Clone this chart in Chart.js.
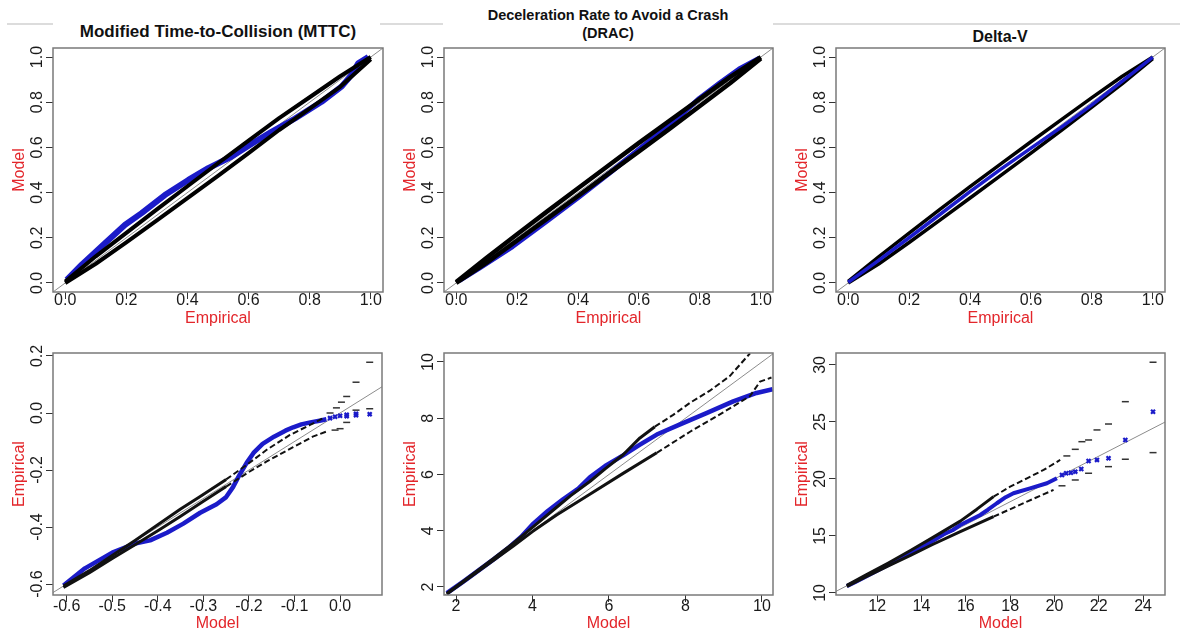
<!DOCTYPE html>
<html>
<head>
<meta charset="utf-8">
<script src="https://cdn.jsdelivr.net/npm/chart.js@4.4.1/dist/chart.umd.min.js"></script>
<style>
  body { margin: 0; background: #fff; }
  #page { position: relative; width: 1182px; height: 634px; overflow: hidden; font-family: "Liberation Sans", Arial, sans-serif; }
  .sep { position: absolute; top: 23px; height: 2px; background: #dcdcdc; }
  .ttl { position: absolute; font-weight: bold; color: #111; text-align: center; white-space: nowrap; transform: translateX(-50%); }
  canvas { position: absolute; }
</style>
</head>
<body>
<div id="page">
  <div class="sep" style="left:7px;width:46px"></div>
  <div class="sep" style="left:380px;width:63px"></div>
  <div class="sep" style="left:773px;width:407px"></div>
  <div class="ttl" style="left:218px;top:21px;font-size:17px;line-height:22px">Modified Time-to-Collision (MTTC)</div>
  <div class="ttl" style="left:608px;top:6px;font-size:14.5px;line-height:18px">Deceleration Rate to Avoid a Crash<br>(DRAC)</div>
  <div class="ttl" style="left:1000px;top:27px;font-size:16px;line-height:20px">Delta-V</div>
  <canvas id="c1"></canvas>
  <canvas id="c2"></canvas>
  <canvas id="c3"></canvas>
  <canvas id="c4"></canvas>
  <canvas id="c5"></canvas>
  <canvas id="c6"></canvas>
</div>
<script>
// ---- P-P plots (top row) ----
const ppGrid = [0, 0.1, 0.2, 0.3, 0.4, 0.5, 0.6, 0.7, 0.8, 0.9, 1.0];
const ppTickLabels = ['0.0', '0.2', '0.4', '0.6', '0.8', '1.0'];
const ppRef = [-0.1, 1.1];

const mttcPPObsX = [0.005, 0.054, 0.130, 0.196, 0.250, 0.326, 0.403, 0.468, 0.545, 0.621, 0.675, 0.752, 0.839, 0.905, 0.937, 0.959, 0.992];
const mttcPPObsY = [0.014, 0.081, 0.176, 0.258, 0.309, 0.389, 0.456, 0.508, 0.560, 0.625, 0.669, 0.728, 0.802, 0.870, 0.921, 0.972, 1.000];
const mttcPPUpper = [0.006, 0.118, 0.222, 0.326, 0.428, 0.530, 0.630, 0.730, 0.822, 0.915, 1.000];
const mttcPPLower = [0.000, 0.085, 0.180, 0.277, 0.375, 0.474, 0.575, 0.677, 0.772, 0.868, 0.990];

const dracPPObsX = [0.010, 0.076, 0.185, 0.295, 0.404, 0.514, 0.623, 0.733, 0.798, 0.864, 0.929, 0.995];
const dracPPObsY = [0.010, 0.066, 0.161, 0.271, 0.382, 0.498, 0.616, 0.737, 0.817, 0.884, 0.947, 0.995];
const dracPPUpper = [0.004, 0.112, 0.216, 0.318, 0.419, 0.520, 0.620, 0.718, 0.815, 0.912, 1.000];
const dracPPLower = [0.000, 0.090, 0.188, 0.286, 0.385, 0.484, 0.582, 0.682, 0.783, 0.885, 0.994];

const dvPPObsY = [0.003, 0.100, 0.200, 0.302, 0.404, 0.503, 0.597, 0.690, 0.788, 0.893, 1.000];
const dvPPUpper = [0.007, 0.116, 0.221, 0.325, 0.426, 0.526, 0.625, 0.723, 0.820, 0.915, 1.000];
const dvPPLower = [0.000, 0.084, 0.179, 0.277, 0.376, 0.475, 0.575, 0.676, 0.778, 0.882, 0.993];

// ---- Q-Q plots (bottom row) ----
const mttcQQTickLabelsX = ['-0.6', '-0.5', '-0.4', '-0.3', '-0.2', '-0.1', '0.0'];
const mttcQQTickLabelsY = ['-0.6', '-0.4', '-0.2', '0.0', '0.2'];
const mttcQQRef = [-0.7, 0.2];
const mttcQQObsX = [-0.607, -0.56, -0.50, -0.45, -0.417, -0.38, -0.344, -0.307, -0.271, -0.250, -0.235, -0.220, -0.205, -0.190, -0.170, -0.145, -0.120, -0.103, -0.085, -0.065, -0.045, -0.030];
const mttcQQObsY = [-0.605, -0.545, -0.490, -0.458, -0.447, -0.420, -0.388, -0.350, -0.320, -0.295, -0.260, -0.215, -0.175, -0.140, -0.108, -0.083, -0.062, -0.050, -0.040, -0.033, -0.027, -0.022];
const mttcQQTailX = [-0.022, -0.011, 0.000, 0.0145, 0.0145, 0.035, 0.035, 0.065];
const mttcQQTailY = [-0.018, -0.013, -0.010, -0.006, -0.011, -0.003, -0.008, -0.004];
const mttcQQUpperX = [-0.607, -0.55, -0.50, -0.45, -0.40, -0.35, -0.307, -0.25, -0.205, -0.161, -0.110, -0.066, -0.037];
const mttcQQUpperY = [-0.607, -0.553, -0.500, -0.447, -0.392, -0.337, -0.293, -0.233, -0.182, -0.129, -0.077, -0.042, -0.018];
const mttcQQUpperTailX = [-0.022, -0.008, 0.003, 0.0145, 0.035, 0.065];
const mttcQQUpperTailY = [0.000, 0.018, 0.038, 0.058, 0.108, 0.178];
const mttcQQLowerX = [-0.607, -0.55, -0.50, -0.45, -0.40, -0.35, -0.30, -0.25, -0.20, -0.161, -0.103, -0.060, -0.030];
const mttcQQLowerY = [-0.612, -0.560, -0.510, -0.462, -0.413, -0.362, -0.310, -0.258, -0.207, -0.170, -0.120, -0.083, -0.065];
const mttcQQLowerTailX = [-0.011, 0.000, 0.0145, 0.035, 0.065];
const mttcQQLowerTailY = [-0.060, -0.055, -0.033, 0.010, 0.015];

const dracQQTickLabels = ['2', '4', '6', '8', '10'];
const dracQQRef = [1, 11];
const dracQQObsX = [1.76, 2.2, 2.6, 3.0, 3.4, 3.7, 4.0, 4.4, 4.8, 5.2, 5.5, 5.9, 6.37, 6.8, 7.25, 7.86, 8.55, 9.25, 9.86, 10.28];
const dracQQObsY = [1.78, 2.20, 2.60, 3.00, 3.42, 3.78, 4.22, 4.70, 5.12, 5.50, 5.90, 6.30, 6.68, 7.05, 7.42, 7.78, 8.18, 8.60, 8.90, 9.03];
const dracQQUpperX = [1.76, 2.5, 3.0, 3.5, 4.0, 4.6, 5.0, 5.5, 5.9, 6.37, 6.81, 7.2, 7.68, 8.12, 8.64, 9.16, 9.69];
const dracQQUpperY = [1.77, 2.52, 3.03, 3.56, 4.12, 4.80, 5.25, 5.75, 6.20, 6.70, 7.30, 7.70, 8.12, 8.55, 8.98, 9.50, 10.31];
const dracQQLowerX = [1.76, 2.5, 3.0, 3.5, 4.0, 4.63, 5.5, 6.37, 7.25, 8.12, 8.99, 9.69, 9.95, 10.25];
const dracQQLowerY = [1.75, 2.48, 2.97, 3.46, 3.97, 4.56, 5.30, 6.04, 6.77, 7.52, 8.21, 8.79, 9.30, 9.45];

const dvQQTickLabelsX = ['12', '14', '16', '18', '20', '22', '24'];
const dvQQTickLabelsY = ['10', '15', '20', '25', '30'];
const dvQQRef = [9, 26];
const dvQQObsX = [10.63, 11.0, 11.5, 12.0, 12.5, 13.0, 13.5, 14.0, 14.5, 15.0, 15.4, 15.75, 16.2, 16.65, 17.0, 17.40, 17.8, 18.15, 18.9, 19.66, 20.11];
const dvQQObsY = [10.60, 10.95, 11.45, 11.95, 12.45, 12.95, 13.45, 13.98, 14.55, 15.15, 15.50, 15.96, 16.40, 16.84, 17.30, 17.87, 18.40, 18.75, 19.18, 19.62, 20.06];
const dvQQTailX = [20.34, 20.53, 20.74, 20.94, 21.21, 21.54, 21.92, 22.44, 23.20, 24.45];
const dvQQTailY = [20.35, 20.50, 20.55, 20.64, 20.88, 21.58, 21.67, 21.81, 23.42, 25.90];
const dvQQUpperX = [10.63, 11.5, 12.5, 13.5, 14.5, 15.75, 16.5, 17.25, 18.0, 18.76, 19.51, 20.26];
const dvQQUpperY = [10.66, 11.58, 12.63, 13.72, 14.85, 16.30, 17.35, 18.45, 19.32, 20.06, 20.79, 21.67];
const dvQQUpperTailX = [20.56, 20.94, 21.24, 21.54, 21.92, 22.44, 23.20, 24.45];
const dvQQUpperTailY = [22.02, 22.60, 23.27, 23.42, 24.30, 24.82, 26.78, 30.24];
const dvQQLowerX = [10.63, 11.5, 12.5, 13.5, 14.5, 15.75, 17.25, 18.76, 19.96];
const dvQQLowerY = [10.58, 11.42, 12.38, 13.30, 14.25, 15.38, 16.69, 18.01, 19.04];
const dvQQLowerTailX = [20.34, 20.94, 21.54, 22.44, 23.20, 24.45];
const dvQQLowerTailY = [19.40, 19.91, 20.50, 21.08, 21.73, 22.31];

// ---- styling ----
const red = '#e3262b';
const blue = '#1b1bc9';
const tickColor = '#1a1a1a';
const fontFamily = '"Liberation Sans", Arial, sans-serif';
const tickFont = { family: fontFamily, size: 16 };
const labelFont = { family: fontFamily, size: 16 };

const pts = (xs, ys) => xs.map((x, i) => ({ x: x, y: ys[i] }));
const nums = labels => labels.map(Number);

// solid band; past `dashFrom` (x value) the envelope is drawn broken like the dash markers
const band = (xs, ys, color, width, dashFrom) => ({
  data: pts(xs, ys), showLine: true, borderColor: color, borderWidth: width,
  pointRadius: 0, borderCapStyle: 'butt', borderJoinStyle: 'round',
  segment: dashFrom === undefined ? {} : {
    borderDash: ctx => ctx.p0.parsed.x >= dashFrom ? [6, 3] : undefined,
    borderWidth: ctx => ctx.p0.parsed.x >= dashFrom ? 2 : undefined
  }
});
const dashes = (xs, ys) => ({
  data: pts(xs, ys), showLine: false, pointStyle: 'line', pointRadius: 3.5,
  pointBorderColor: '#333', pointBorderWidth: 1.5
});
const crosses = (xs, ys) => ({
  data: pts(xs, ys), showLine: false, pointStyle: 'crossRot', pointRadius: 2.8,
  pointBorderColor: blue, pointBorderWidth: 2.2
});
const refLine = r => ({
  data: pts(r, r), showLine: true, borderColor: '#8c8c8c', borderWidth: 1, pointRadius: 0, clip: 0
});

const boxPlugin = {
  id: 'plotBox',
  afterDatasetsDraw(chart) {
    const a = chart.chartArea, ctx = chart.ctx;
    ctx.save();
    ctx.strokeStyle = '#7a7a7a';
    ctx.lineWidth = 1.5;
    ctx.strokeRect(a.left, a.top, a.right - a.left, a.bottom - a.top);
    ctx.restore();
  }
};

const meas = document.createElement('canvas').getContext('2d');
meas.font = '16px ' + fontFamily;
const widest = labels => Math.max(...labels.map(l => meas.measureText(l).width));

function panel(id, a, c) {
  const cv = document.getElementById(id);
  const w = a.R - a.L + 53 + 20, h = a.B - a.T + 20 + 40;
  cv.width = w; cv.height = h;
  cv.style.left = (a.L - 53) + 'px';
  cv.style.top = (a.T - 20) + 'px';
  cv.style.width = w + 'px';
  cv.style.height = h + 'px';
  const xOff = c.row === 0 ? 9 : 12;
  const xTitlePad = c.row === 0 ? 3.4 : 1.4;
  new Chart(cv, {
    type: 'scatter',
    data: { datasets: c.datasets },
    options: {
      responsive: false,
      animation: false,
      devicePixelRatio: 1,
      layout: { padding: { top: 20, right: 20, left: 0, bottom: 0 } },
      plugins: { legend: { display: false }, tooltip: { enabled: false } },
      scales: {
        x: {
          type: 'linear', bounds: 'data', min: c.x.min, max: c.x.max,
          afterBuildTicks: s => { s.ticks = nums(c.x.labels).map(v => ({ value: v })); },
          afterFit: s => { s.height = 40; s.paddingLeft = 0; s.paddingRight = 0; },
          ticks: {
            autoSkip: false, minRotation: 0, maxRotation: 0, padding: xOff - 7 - 9.6,
            color: tickColor, font: tickFont, callback: (v, i) => c.x.labels[i]
          },
          grid: { drawOnChartArea: false, drawTicks: true, tickLength: 7, color: '#333' },
          border: { display: false },
          title: { display: true, text: c.x.title, color: red, font: labelFont, padding: { top: 0, bottom: xTitlePad } }
        },
        y: {
          type: 'linear', bounds: 'data', min: c.y.min, max: c.y.max,
          afterBuildTicks: s => { s.ticks = nums(c.y.labels).map(v => ({ value: v })); },
          afterFit: s => { s.width = 53; s.paddingTop = 0; s.paddingBottom = 0; },
          ticks: {
            autoSkip: false, minRotation: 90, maxRotation: 90, crossAlign: 'center',
            padding: 15 - 7 - widest(c.y.labels) / 2,
            color: tickColor, font: tickFont, callback: (v, i) => c.y.labels[i]
          },
          grid: { drawOnChartArea: false, drawTicks: true, tickLength: 7, color: '#333' },
          border: { display: false },
          title: { display: true, text: c.y.title, color: red, font: labelFont, padding: { top: 10, bottom: 0 } }
        }
      }
    },
    plugins: [boxPlugin]
  });
}

const ppAxis = title => ({ min: -0.04, max: 1.04, labels: ppTickLabels, title: title });

panel('c1', { L: 53, T: 48, R: 383, B: 292 }, {
  row: 0, x: ppAxis('Empirical'), y: ppAxis('Model'),
  datasets: [
    band(ppGrid, mttcPPUpper, '#000', 4),
    band(ppGrid, mttcPPLower, '#000', 4),
    band(mttcPPObsX, mttcPPObsY, blue, 6),
    refLine(ppRef)
  ]
});

panel('c2', { L: 444, T: 48, R: 773, B: 292 }, {
  row: 0, x: ppAxis('Empirical'), y: ppAxis('Model'),
  datasets: [
    band(ppGrid, dracPPUpper, '#000', 4.5),
    band(ppGrid, dracPPLower, '#000', 4.5),
    band(dracPPObsX, dracPPObsY, blue, 5),
    refLine(ppRef)
  ]
});

panel('c3', { L: 836, T: 48, R: 1165, B: 292 }, {
  row: 0, x: ppAxis('Empirical'), y: ppAxis('Model'),
  datasets: [
    band(ppGrid, dvPPObsY, blue, 3.5),
    band(ppGrid, dvPPUpper, '#000', 3.5),
    band(ppGrid, dvPPLower, '#000', 3.5),
    refLine(ppRef)
  ]
});

panel('c4', { L: 53, T: 353, R: 382, B: 595 }, {
  row: 1,
  x: { min: -0.630, max: 0.092, labels: mttcQQTickLabelsX, title: 'Model' },
  y: { min: -0.6385, max: 0.2105, labels: mttcQQTickLabelsY, title: 'Empirical' },
  datasets: [
    dashes(mttcQQUpperTailX, mttcQQUpperTailY),
    dashes(mttcQQLowerTailX, mttcQQLowerTailY),
    band(mttcQQUpperX, mttcQQUpperY, '#111', 3, -0.25),
    band(mttcQQLowerX, mttcQQLowerY, '#111', 3, -0.25),
    crosses(mttcQQTailX, mttcQQTailY),
    band(mttcQQObsX, mttcQQObsY, blue, 4.5),
    refLine(mttcQQRef)
  ]
});

panel('c5', { L: 444, T: 353, R: 773, B: 595 }, {
  row: 1,
  x: { min: 1.686, max: 10.29, labels: dracQQTickLabels, title: 'Model' },
  y: { min: 1.715, max: 10.32, labels: dracQQTickLabels, title: 'Empirical' },
  datasets: [
    band(dracQQUpperX, dracQQUpperY, '#111', 3, 7.2),
    band(dracQQLowerX, dracQQLowerY, '#111', 3, 7.25),
    band(dracQQObsX, dracQQObsY, blue, 4.5),
    refLine(dracQQRef)
  ]
});

panel('c6', { L: 836, T: 353, R: 1165, B: 595 }, {
  row: 1,
  x: { min: 10.14, max: 24.99, labels: dvQQTickLabelsX, title: 'Model' },
  y: { min: 9.82, max: 31.05, labels: dvQQTickLabelsY, title: 'Empirical' },
  datasets: [
    dashes(dvQQUpperTailX, dvQQUpperTailY),
    dashes(dvQQLowerTailX, dvQQLowerTailY),
    band(dvQQUpperX, dvQQUpperY, '#111', 3, 17.25),
    band(dvQQLowerX, dvQQLowerY, '#111', 3, 17.25),
    crosses(dvQQTailX, dvQQTailY),
    band(dvQQObsX, dvQQObsY, blue, 4),
    refLine(dvQQRef)
  ]
});
</script>
</body>
</html>
